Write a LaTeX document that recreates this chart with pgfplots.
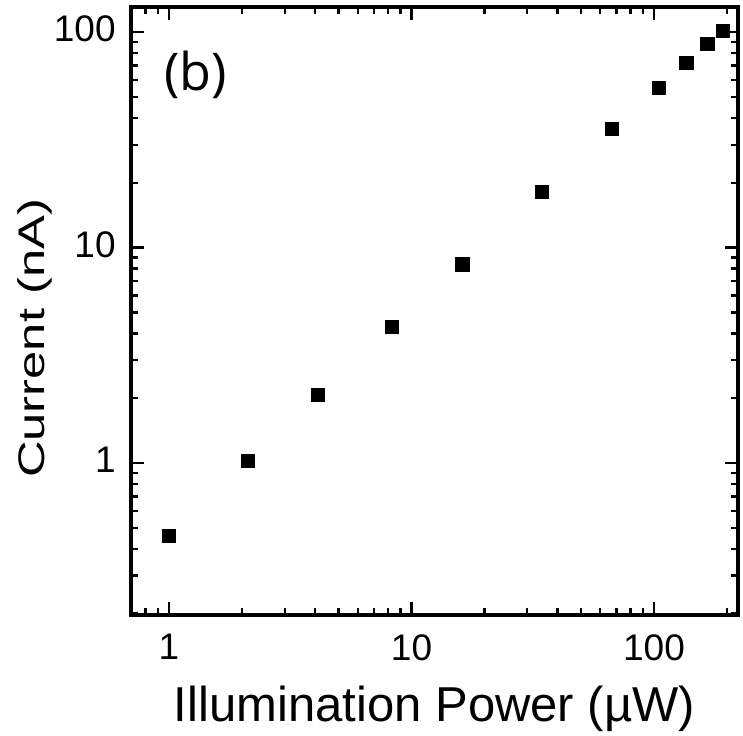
\documentclass[border=0pt]{standalone}
\usepackage{pgfplots}
\pgfplotsset{compat=1.18}
\usepackage{fontspec}
\setmainfont{Liberation Sans}
\newfontfamily\panelfont{Open Sans}

\begin{document}
\begin{tikzpicture}
  \begin{axis}[
      xmode = log,
      ymode = log,
      scale only axis,
      width = 303.5pt,
      height = 304pt,
      xmin = 0.697, xmax = 222,
      ymin = 0.197, ymax = 131,
      xtick = {1,10,100},
      xticklabels = {1,10,100},
      ytick = {1,10,100},
      yticklabels = {1,10,100},
      minor xtick = {0.7,0.8,0.9,2,3,4,5,6,7,8,9,20,30,40,50,60,70,80,90,200},
      minor ytick = {0.2,0.3,0.4,0.5,0.6,0.7,0.8,0.9,2,3,4,5,6,7,8,9,20,30,40,50,60,70,80,90},
      tick align = inside,
      major tick length = 6.5pt,
      minor tick length = 3.5pt,
      tick style = {line width=1.2pt, black},
      axis line style = {line width=2pt},
      /pgf/number format/assume math mode = true,
      tick label style = {font=\fontsize{18.5}{20}\selectfont, inner sep=0pt},
      xticklabel style = {anchor=north, yshift=-9.5pt},
      yticklabel style = {anchor=east, xshift=-7.5pt, yshift=1.5pt},
      xlabel = {\fontsize{24.5}{28}\selectfont Illumination Power (µW)},
      xlabel style = {at={(axis description cs:0.5,-0.1757)}, anchor=base, inner sep=0pt},
      ylabel = {\scalebox{1.37}[1]{\fontsize{18.5}{20}\selectfont Current (nA)}},
      ylabel style = {at={(axis description cs:-0.130,0.455)}, anchor=south, inner sep=0pt},
      clip = false
    ]
    \addplot[only marks, mark=square*, mark size=3.3pt, black] coordinates {
      (1.0, 0.459)
      (2.12, 1.02)
      (4.12, 2.07)
      (8.31, 4.27)
      (16.2, 8.36)
      (34.5, 18.2)
      (67.1, 35.7)
      (105, 55.3)
      (136, 72.2)
      (166, 88.5)
      (193, 101.6)
    };
    \node[anchor=center, font=\panelfont\fontsize{26}{30}\selectfont]
      at (rel axis cs:0.106,0.888) {(b)};
    % fix the page margins to those of the reference
    \path (rel axis cs:0,0) ++(-65.5pt,-60pt);
    \path (rel axis cs:1,1) ++(2.5pt,3.5pt);
  \end{axis}
\end{tikzpicture}
\end{document}
